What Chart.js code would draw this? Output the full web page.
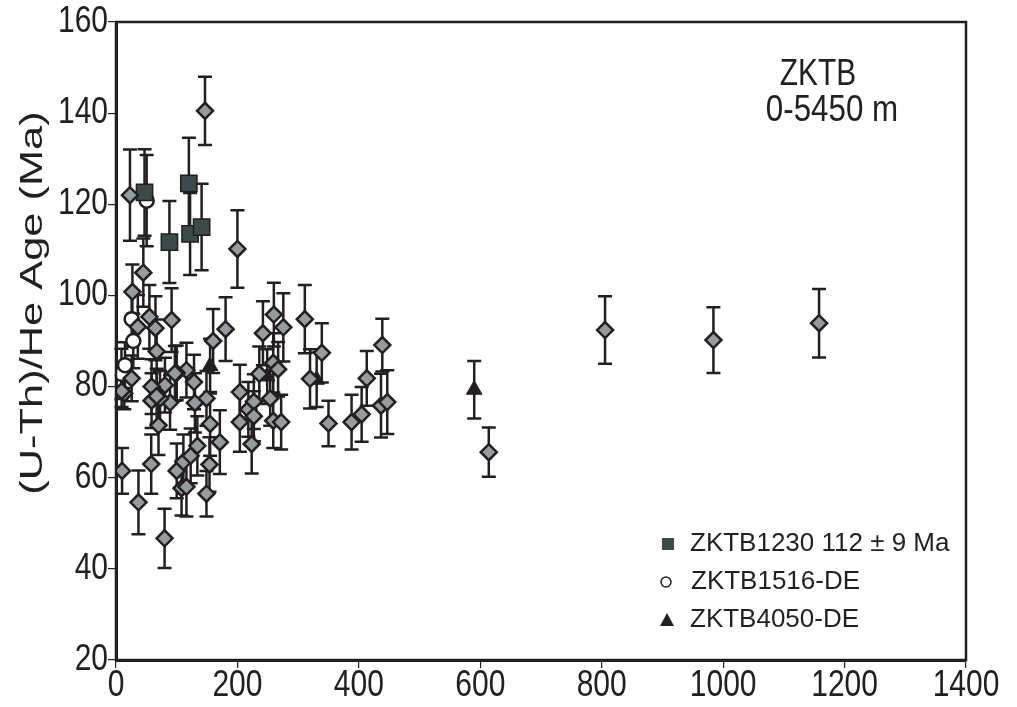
<!DOCTYPE html>
<html>
<head>
<meta charset="utf-8">
<script src="https://cdn.jsdelivr.net/npm/chart.js@4.4.0/dist/chart.umd.min.js"></script>
<style>
  html, body { margin: 0; padding: 0; background: #fff; }
  #wrap { width: 1017px; height: 707px; }
</style>
</head>
<body>
<div id="wrap"><canvas id="chart" width="1017" height="707"></canvas></div>
<script>
// axis ticks
const xTicks = [0, 200, 400, 600, 800, 1000, 1200, 1400];
const yTicks = [20, 40, 60, 80, 100, 120, 140, 160];

// single-grain data (unnamed diamonds)
const diamondX = [10, 37, 58, 80, 100, 108, 111, 116, 123, 134, 149, 154, 155, 171, 149, 130, 128.5, 116, 100, 89,
  80.6, 70, 72.5, 58.6, 58.6, 67, 13.7, 9.3, 25.8, 23, 45, 27, 36, 55, 65, 67, 91.6, 97, 146.6, 160,
  180.5, 200, 204, 204, 218, 227, 227, 223.5, 236, 242, 254, 259, 259, 267, 272, 260, 275.6, 311, 319.6, 339,
  350, 388, 404.6, 413, 438.6, 436.5, 446.8, 614, 805.5, 984, 1158];
const diamondY = [61.5, 54.6, 63, 46.7, 61.5, 57.7, 63.5, 58, 64.8, 67, 56.5, 62.9, 71.8, 67.8, 77.4, 76.4, 81, 83.6, 83, 76.5,
  80.3, 71.5, 77.4, 80, 76.9, 77.9, 78.5, 79, 81.8, 122, 105, 100.8, 93.1, 95.3, 92.8, 87.7, 94.6, 82.9, 140.5, 90,
  92.6, 110.2, 78.8, 72.2, 75, 76.7, 73.5, 67.4, 82.8, 91.7, 77.4, 72.5, 85.2, 83.8, 72.2, 95.8, 93, 94.8, 81.7, 87.4,
  71.9, 72.2, 73.9, 81.8, 89.1, 75.8, 76.6, 65.6, 92.4, 90.2, 93.9];
const diamondErr = [5, 7, 6.5, 6.5, 6, 6, 6, 6.5, 6, 6.5, 5, 6, 7, 7, 6, 6.5, 6, 6, 6, 6,
  6, 6.5, 6, 6, 6, 6, 3.5, 3.5, 5, 10, 7.5, 6, 7, 7, 7, 7, 7, 6, 7.5, 7,
  7, 8.5, 6, 6.5, 6, 6, 5.5, 6.5, 6, 7, 6, 6, 6.5, 6, 6, 7, 7.5, 7.5, 6.5, 6.5,
  5, 6, 6, 6, 5.8, 7, 7, 5.4, 7.4, 7.2, 7.5];

// ZKTB1230
const sq1230X = [47, 88, 120, 122, 141];
const sq1230Y = [122.6, 111.7, 124.6, 113.5, 115];
const sq1230Err = [9.5, 9, 10, 9, 9.5];

// ZKTB1516-DE
const c1516X = [9, 14.8, 25.8, 28.5, 50.5];
const c1516Y = [82.8, 84.7, 94.8, 90, 120.8];
const c1516Err = [5.5, 5, 6, 6, 10];

// ZKTB4050-DE
const t4050X = [155, 249, 330.5, 590];
const t4050Y = [84.5, 82.2, 81.5, 79.3];
const t4050Err = [6, 6, 6, 6.3];

const INK = '#231f20';
const FONT = "'Liberation Sans', Arial, sans-serif";
const STRETCH = 1.2; // the figure's lettering is drawn a bit tall

function pts(xs, ys, es) {
  return xs.map((x, i) => ({ x: x, y: ys[i], err: es[i] }));
}

function tallText(ctx, txt, x, y, sx, sy) {
  ctx.save();
  ctx.translate(x, y);
  ctx.scale(sx, sy);
  ctx.fillText(txt, 0, 0);
  ctx.restore();
}

// vertical error bars with caps, drawn under the markers
const errorBars = {
  id: 'errorBars',
  beforeDatasetsDraw(chart) {
    const ctx = chart.ctx;
    const xs = chart.scales.x, ys = chart.scales.y;
    ctx.save();
    ctx.strokeStyle = INK;
    ctx.lineWidth = 2.5;
    chart.data.datasets.forEach(ds => {
      ds.data.forEach(p => {
        const px = xs.getPixelForValue(p.x);
        const top = ys.getPixelForValue(p.y + p.err);
        const bot = ys.getPixelForValue(p.y - p.err);
        ctx.beginPath();
        ctx.moveTo(px, top); ctx.lineTo(px, bot);
        ctx.moveTo(px - 7, top); ctx.lineTo(px + 7, top);
        ctx.moveTo(px - 7, bot); ctx.lineTo(px + 7, bot);
        ctx.stroke();
      });
    });
    ctx.restore();
  }
};

// frame, tick labels, titles and the small legend inside the plot
const decor = {
  id: 'decor',
  afterDraw(chart) {
    const ctx = chart.ctx;
    const a = chart.chartArea;
    const xs = chart.scales.x, ys = chart.scales.y;
    ctx.save();
    ctx.strokeStyle = INK;
    ctx.lineWidth = 2.5;
    ctx.strokeRect(a.left, a.top, a.right - a.left, a.bottom - a.top);

    ctx.fillStyle = INK;
    ctx.textBaseline = 'middle';
    ctx.font = '30px ' + FONT;

    // tick labels
    ctx.textAlign = 'center';
    xTicks.forEach(v => tallText(ctx, String(v), xs.getPixelForValue(v), 686, 1, STRETCH));
    ctx.textAlign = 'right';
    yTicks.forEach(v => tallText(ctx, String(v), 108, ys.getPixelForValue(v), 1, STRETCH));

    // y title
    ctx.textAlign = 'center';
    ctx.font = '31px ' + FONT;
    ctx.save();
    ctx.translate(33, 303);
    ctx.rotate(-Math.PI / 2);
    tallText(ctx, '(U-Th)/He Age (Ma)', 0, 0, 1.4, 1);
    ctx.restore();

    ctx.font = '29px ' + FONT;
    tallText(ctx, 'ZKTB', 818, 75, 1.03, 1.25);
    tallText(ctx, '0-5450 m', 832, 111, 1.08, 1.25);

    // legend
    ctx.textAlign = 'left';
    ctx.font = '26px ' + FONT;
    ctx.fillStyle = '#3c4a4b';
    ctx.fillRect(662, 538, 12, 12);
    ctx.fillStyle = INK;
    ctx.fillText('ZKTB1230 112 \u00b1 9 Ma', 690, 544);

    ctx.lineWidth = 1.5;
    ctx.beginPath();
    ctx.arc(666, 582, 5, 0, Math.PI * 2);
    ctx.stroke();
    ctx.fillText('ZKTB1516-DE', 691, 582);

    ctx.beginPath();
    ctx.moveTo(660, 626); ctx.lineTo(674, 626); ctx.lineTo(667, 613);
    ctx.closePath();
    ctx.fill();
    ctx.fillText('ZKTB4050-DE', 690, 620);
    ctx.restore();
  }
};

new Chart(document.getElementById('chart'), {
  type: 'scatter',
  data: {
    datasets: [
      { label: 'samples', data: pts(diamondX, diamondY, diamondErr),
        pointStyle: 'rectRot', pointRadius: 8, backgroundColor: '#959ca1', borderColor: INK, borderWidth: 2.5 },
      { label: 'ZKTB1230 112 \u00b1 9 Ma', data: pts(sq1230X, sq1230Y, sq1230Err),
        pointStyle: 'rect', pointRadius: 11.5, backgroundColor: '#3c4a4b', borderColor: INK, borderWidth: 1.5 },
      { label: 'ZKTB1516-DE', data: pts(c1516X, c1516Y, c1516Err),
        pointStyle: 'circle', pointRadius: 7, backgroundColor: '#fff', borderColor: INK, borderWidth: 2.5 },
      { label: 'ZKTB4050-DE', data: pts(t4050X, t4050Y, t4050Err),
        pointStyle: 'triangle', pointRadius: 9, backgroundColor: INK, borderColor: INK, borderWidth: 1 }
    ]
  },
  options: {
    responsive: false,
    animation: false,
    layout: { padding: { top: 22, right: 51, left: 0, bottom: 0 } },
    plugins: { legend: { display: false }, tooltip: { enabled: false } },
    scales: {
      x: {
        min: 0, max: 1400,
        afterFit(s) { s.height = 47; },
        afterBuildTicks(s) { s.ticks = xTicks.map(v => ({ value: v })); },
        grid: { drawOnChartArea: false, tickLength: 8, color: INK, lineWidth: 1.2 },
        border: { color: INK, width: 3 },
        ticks: { display: false }
      },
      y: {
        min: 20, max: 160,
        afterFit(s) { s.width = 116; },
        afterBuildTicks(s) { s.ticks = yTicks.map(v => ({ value: v })); },
        grid: { drawOnChartArea: false, tickLength: 8, color: INK, lineWidth: 1.2 },
        border: { color: INK, width: 3 },
        ticks: { display: false }
      }
    }
  },
  plugins: [errorBars, decor]
});
</script>
</body>
</html>
